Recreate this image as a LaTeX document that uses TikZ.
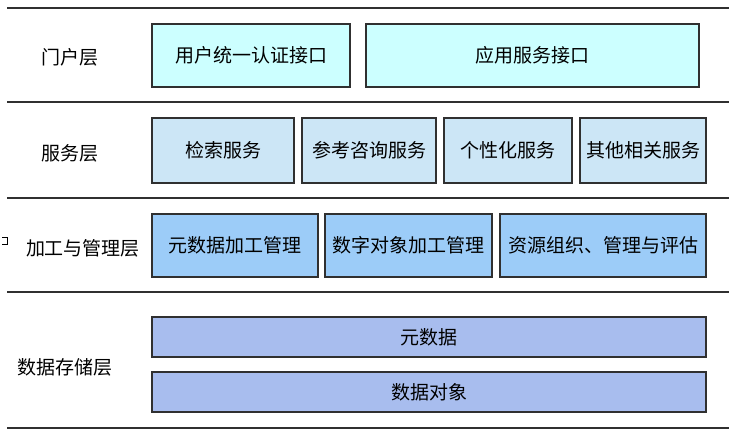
\documentclass[tikz,border=0pt]{standalone}
\usepackage{fontspec}
\newfontfamily\cjk{Noto Sans CJK SC}
\usetikzlibrary{positioning}
\definecolor{portalfill}{HTML}{CCFFFF}
\definecolor{servicefill}{HTML}{CCE6F6}
\definecolor{procfill}{HTML}{9CCCF8}
\definecolor{storefill}{HTML}{A8BDEE}
\definecolor{edgegray}{HTML}{303030}
\tikzset{
    layername/.style = {
        font=\cjk\fontsize{19}{21}\selectfont, inner sep=0pt
    },
    block/.style = {
        draw=edgegray, line width=1.3pt, inner sep=0pt,
        font=\cjk\fontsize{19}{21}\selectfont
    },
    sepline/.style = {
        draw=edgegray, line width=1.3pt
    }
}

\begin{document}
\begin{tikzpicture}[x=1pt, y=-1pt]
        \useasboundingbox (0,0) rectangle (742,437);
        % Separator lines
        \foreach \y in {8, 102, 198, 292, 428}{
            \draw[sepline] (7,\y) -- (729,\y);
        }
        \draw[line width=1pt] (2,237) -- (7,237) -- (7,244) -- (2,244);

        % Layer names
        \node[layername] (portal) at (70,57) {门户层};
        \node[layername] (service) at (70,153) {服务层};
        \node[layername] (proc) at (83,248) {加工与管理层};
        \node[layername] (store) at (65,367) {数据存储层};

        % Portal layer
        \begin{scope}[every node/.style={block, fill=portalfill, minimum height=63pt}]
            \node[minimum width=198pt] (auth) at (251,55.5) {用户统一认证接口};
            \node[minimum width=333pt] (appif) at (532.5,55.5) {应用服务接口};
        \end{scope}

        % Service layer
        \begin{scope}[every node/.style={block, fill=servicefill, minimum height=65pt}]
            \node[minimum width=142pt] (search) at (223,150.5) {检索服务};
            \node[minimum width=134pt] (refer) at (369,150.5) {参考咨询服务};
            \node[minimum width=128pt] (person) at (508,150.5) {个性化服务};
            \node[minimum width=126pt] (other) at (643,150.5) {其他相关服务};
        \end{scope}

        % Processing and management layer
        \begin{scope}[every node/.style={block, fill=procfill, minimum height=63pt}]
            \node[minimum width=166pt] (metaproc) at (235,245.5) {元数据加工管理};
            \node[minimum width=167pt] (objproc) at (408.5,245.5) {数字对象加工管理};
            \node[minimum width=206pt] (resorg) at (603,245.5) {资源组织、管理与评估};
        \end{scope}

        % Storage layer
        \begin{scope}[every node/.style={block, fill=storefill, minimum height=40pt, minimum width=554pt}]
            \node (metadata) at (429,337) {元数据};
            \node (dataobj) at (429,392) {数据对象};
        \end{scope}
    \end{tikzpicture}
\end{document}
